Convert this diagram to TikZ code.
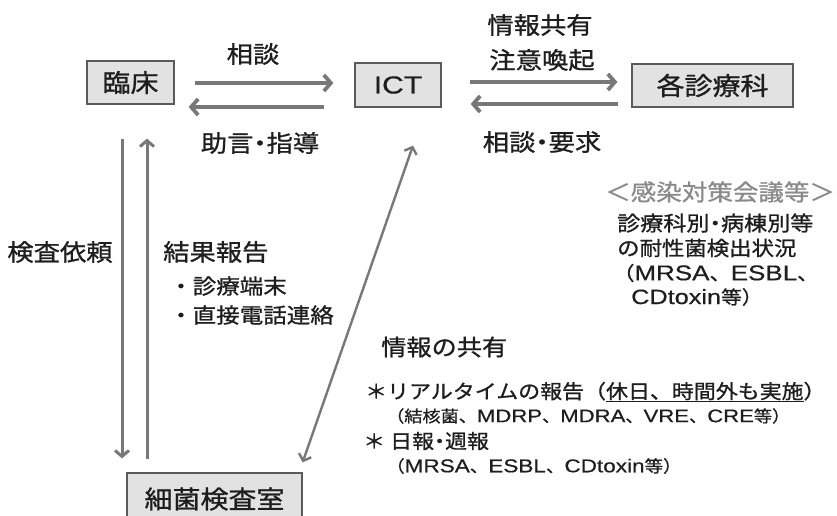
\documentclass[tikz,border=0pt]{standalone}
\usepackage{fontspec}
\usetikzlibrary{arrows.meta,calc}
\newfontfamily\jp[FakeStretch=1.12,FakeBold=1]{Noto Sans CJK JP}
\newfontfamily\jpp[FakeStretch=1.12,FakeBold=1,RawFeature=+palt]{Noto Sans CJK JP}
\newfontfamily\lat[Scale=1.12,FakeStretch=1.22,FakeBold=0.6]{Liberation Sans}
\newcommand\la[1]{{\lat #1}}
\newcommand\nd{{\jpp ・}}
\definecolor{arr}{HTML}{787878}
\definecolor{boxfill}{HTML}{E2E2E2}
\definecolor{boxdraw}{HTML}{5A5A5A}
\definecolor{txt}{HTML}{1E1E1E}
\definecolor{gtxt}{HTML}{8A8A8A}
\begin{document}
\begin{tikzpicture}[x=1pt,y=-1pt,
  box/.style={draw=boxdraw, line width=1.2pt, fill=boxfill, inner sep=0pt, text=txt, font=\jp\fontsize{25}{29}\selectfont},
  lbl/.style={text=txt, inner sep=0pt, font=\jpp\fontsize{23.5}{27}\selectfont},
  sub/.style={text=txt, inner sep=0pt, anchor=west, font=\jp\fontsize{21}{25}\selectfont},
  rt/.style={text=txt, inner sep=0pt, anchor=west, font=\jp\fontsize{20}{24}\selectfont},
  bt/.style={text=txt, inner sep=0pt, anchor=west, font=\jp\fontsize{19.6}{24}\selectfont},
  bs/.style={text=txt, inner sep=0pt, anchor=west, font=\jp\fontsize{16.5}{20}\selectfont},
  harr/.style={draw=arr, line width=3.8pt, -{Straight Barb[length=7pt,width=16pt]}},
  varr/.style={draw=arr, line width=3pt, -{Straight Barb[length=6pt,width=14pt]}},
  darr/.style={draw=arr, line width=2.4pt, {Straight Barb[length=6pt,width=13pt]}-{Straight Barb[length=6pt,width=13pt]}}]
\useasboundingbox (0,0) rectangle (837,516);
\clip (0,0) rectangle (837,516);
% boxes
\node[box, minimum width=87pt, minimum height=43pt] (rinsho) at (130.5,82.5) {臨床};
\node[box, minimum width=86pt, minimum height=44pt, font=\lat\fontsize{22}{26}\selectfont] (ict) at (398,85) {ICT};
\node[box, minimum width=161pt, minimum height=43pt] (kaku) at (712.5,85.5) {各診療科};
\node[box, minimum width=175pt, minimum height=52pt] (lab) at (214.5,499) {細菌検査室};
% arrows
\draw[harr] ($(rinsho.east)+(20,0.5)$) -- ($(ict.west)+(-21,-2)$);
\draw[harr] ($(ict.west)+(-30,22)$) -- ($(rinsho.east)+(14,24.5)$);
\draw[harr] ($(ict.east)+(28,-3)$) -- ($(kaku.west)+(-14,-3.5)$);
\draw[harr] ($(kaku.west)+(-13,18.5)$) -- ($(ict.east)+(29,19)$);
\draw[varr] ($(rinsho.south)+(-8.5,34)$) -- ($(lab.north)+(-92.5,-14)$);
\draw[varr] ($(lab.north)+(-67.5,-13)$) -- ($(rinsho.south)+(16.5,34)$);
\draw[darr] ($(lab.north east)+(0,-10)$) -- ($(ict.south)+(15,38)$);
% labels
\node[lbl] (soudan) at (253,54) {相談};
\node[lbl] (jogen) at (260,143) {助言・指導};
\node[lbl] (joho) at (540,25) {情報共有};
\node[lbl] (chui) at (542,60) {注意喚起};
\node[lbl] (youkyu) at (542,142) {相談・要求};
\node[lbl] (kensa) at (60,252) {検査依頼};
\node[lbl, anchor=west] (kekka) at (163,252) {結果報告};
\node[sub] (s1) at (169,286) {・診療端末};
\node[sub] (s2) at (169,315) {・直接電話連絡};
% right side
\node[rt, text=gtxt, font=\jp\fontsize{22.8}{27}\selectfont] (kaigi) at (605,192) {＜感染対策会議等＞};
\node[rt, font=\jp\fontsize{20.6}{24}\selectfont] (r1) at (617,223) {診療科別\nd 病棟別等};
\node[rt] (r2) at (617,248) {の耐性菌検出状況};
\node[rt, font=\jp\fontsize{19}{23}\selectfont] (r3) at (613,273) {（\la{MRSA}、\la{ESBL}、};
\node[rt, font=\jp\fontsize{18.5}{22}\selectfont] (r4) at (631,297) {\la{CDtoxin}等）};
% bottom
\node[bt, font=\jp\fontsize{22.5}{26}\selectfont] (kyoyu) at (381,347) {情報の共有};
\node[bt] (b1) at (365,392) {＊リアルタイムの報告（\underline{休日、時間外も実施}）};
\node[bs, font=\jp\fontsize{16.2}{20}\selectfont] (b2) at (386,416) {（結核菌、\la{MDRP}、\la{MDRA}、\la{VRE}、\la{CRE}等）};
\node[bt, font=\jpp\fontsize{19.6}{24}\selectfont] (b3) at (365,441) {＊\hspace{7pt}日報・週報};
\node[bs] (b4) at (386,466) {（\la{MRSA}、\la{ESBL}、\la{CDtoxin}等）};
\end{tikzpicture}
\end{document}
